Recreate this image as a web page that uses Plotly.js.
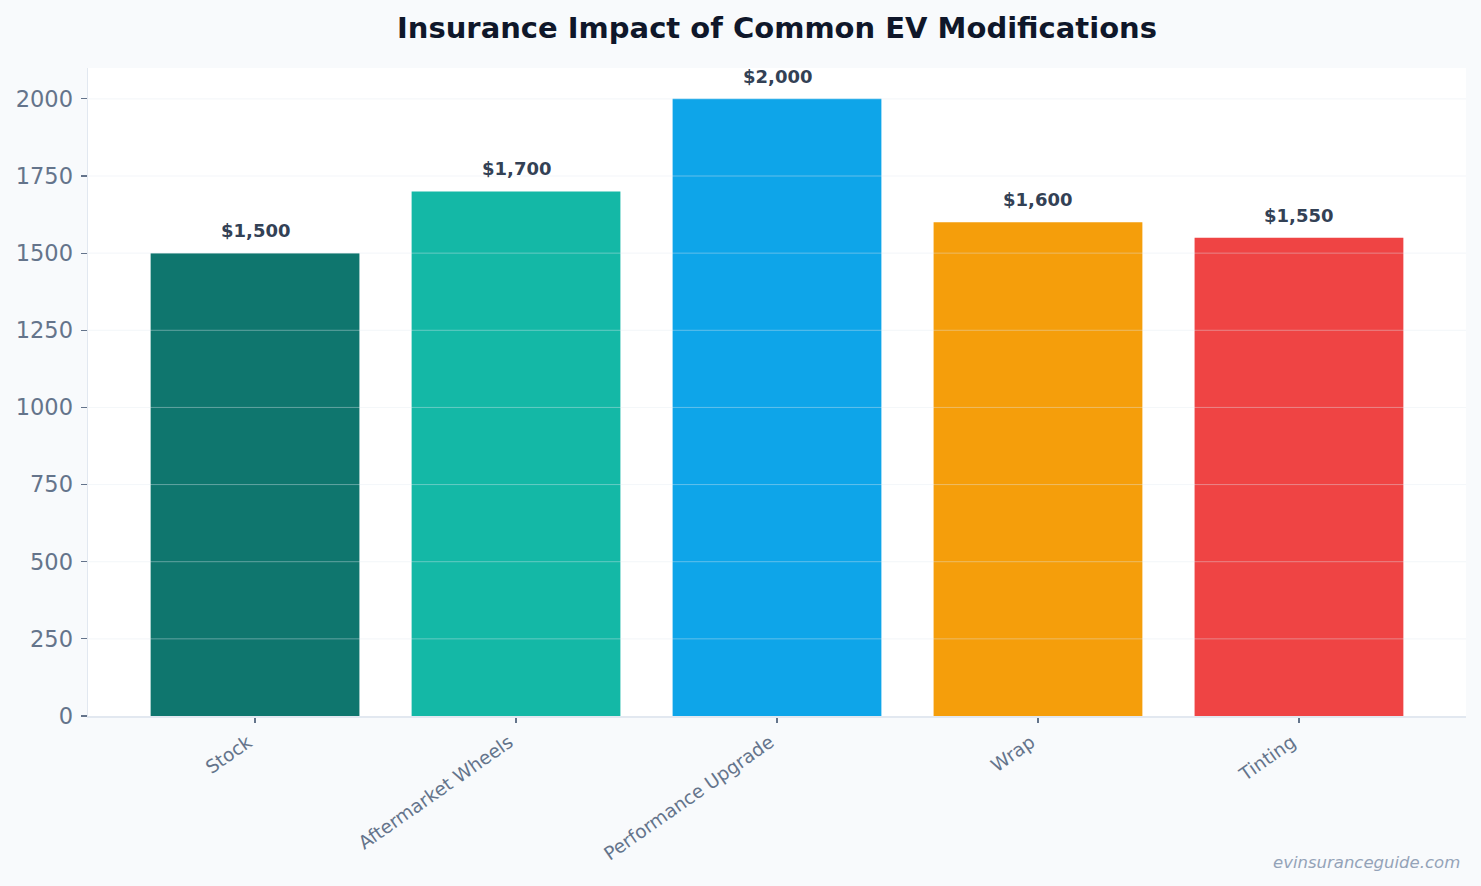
<!DOCTYPE html>
<html>
<head>
<meta charset="utf-8">
<script src="https://cdn.plot.ly/plotly-3.0.1.min.js"></script>
<style>
  html, body { margin: 0; padding: 0; background: #f8fafc; }
  #chart { width: 1481px; height: 886px; }
</style>
</head>
<body>
<div id="chart"></div>
<script>
// Annual premium by modification type
const modifications = ["Stock", "Aftermarket Wheels", "Performance Upgrade", "Wrap", "Tinting"];
const premiums = [1500, 1700, 2000, 1600, 1550];
const barColors = ["#0f766e", "#14b8a6", "#0ea5e9", "#f59e0b", "#ef4444"];
const yTicks = [0, 250, 500, 750, 1000, 1250, 1500, 1750, 2000];

const fmtMoney = v => "$" + v.toLocaleString("en-US");

const trace = {
  type: "bar",
  x: modifications,
  y: premiums,
  marker: { color: barColors, line: { width: 0 } },
  hoverinfo: "skip"
};

const labels = modifications.map((m, i) => ({
  x: m,
  y: premiums[i],
  xref: "x",
  yref: "y",
  text: "<b>" + fmtMoney(premiums[i]) + "</b>",
  showarrow: false,
  yanchor: "bottom",
  yshift: 10,
  font: { family: "DejaVu Sans", size: 18, color: "#334155" }
}));

labels.push({
  xref: "paper", yref: "paper",
  x: 1, y: 0,
  xanchor: "right", yanchor: "top",
  xshift: -4,
  yshift: -135,
  text: "<i>evinsuranceguide.com</i>",
  showarrow: false,
  font: { family: "DejaVu Sans", size: 16.5, color: "#94a3b8" }
});

// Faint grid lines drawn over the bars
const gridLines = yTicks.filter(v => v > 0).map(v => ({
  type: "line",
  xref: "paper", yref: "y",
  x0: 0, x1: 1, y0: v, y1: v,
  layer: "above",
  line: { color: "rgba(226,232,240,0.4)", width: 1 }
}));

const layout = {
  width: 1481,
  height: 886,
  paper_bgcolor: "#f8fafc",
  plot_bgcolor: "#ffffff",
  margin: { l: 88, r: 15, t: 68, b: 170 },
  title: {
    text: "<b>Insurance Impact of Common EV Modifications</b>",
    xref: "paper",
    x: 0.5,
    xanchor: "center",
    y: 0.969,
    yanchor: "middle",
    font: { family: "DejaVu Sans", size: 29, color: "#0f172a" }
  },
  bargap: 0.2,
  showlegend: false,
  xaxis: {
    type: "category",
    range: [-0.64, 4.64],
    tickangle: -35,
    ticks: "outside",
    ticklen: 5,
    tickwidth: 1.2,
    tickcolor: "#64748b",
    ticklabelshift: -7,
    ticklabelstandoff: 2,
    tickfont: { family: "DejaVu Sans", size: 18.5, color: "#64748b" },
    showgrid: false,
    showline: true,
    linecolor: "#e2e8f0",
    linewidth: 1.5,
    zeroline: false,
    layer: "above traces",
    fixedrange: true
  },
  yaxis: {
    range: [0, 2100],
    tickvals: yTicks,
    ticks: "outside",
    ticklen: 6,
    tickwidth: 1.2,
    tickcolor: "#64748b",
    ticklabelstandoff: 3,
    tickfont: { family: "DejaVu Sans", size: 22.5, color: "#64748b" },
    showgrid: false,
    showline: true,
    linecolor: "#e2e8f0",
    linewidth: 1.5,
    zeroline: false,
    layer: "above traces",
    fixedrange: true
  },
  shapes: gridLines,
  annotations: labels
};

Plotly.newPlot("chart", [trace], layout, { displayModeBar: false, staticPlot: true });
</script>
</body>
</html>
